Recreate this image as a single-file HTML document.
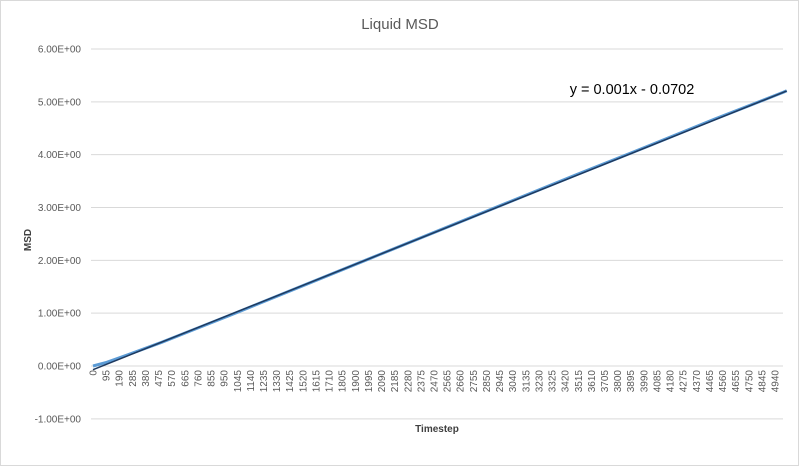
<!DOCTYPE html>
<html><head><meta charset="utf-8"><style>
body{margin:0;background:#fff;}
svg{display:block;font-family:"Liberation Sans",sans-serif;}
</style></head><body>
<svg id="chart" width="800" height="467">
<rect x="0.5" y="0.5" width="798" height="465" fill="#fff" stroke="#d9d9d9"/>
<text x="400" y="29" text-anchor="middle" font-size="15" fill="#595959">Liquid MSD</text>
<text x="632" y="94" text-anchor="middle" font-size="14.5" fill="#000">y = 0.001x - 0.0702</text>
<text transform="translate(31,240) rotate(-90)" text-anchor="middle" font-size="10" font-weight="bold" fill="#404040">MSD</text>
<text x="437" y="432" text-anchor="middle" font-size="10" font-weight="bold" fill="#404040">Timestep</text>
<g id="grid"></g><g id="xticks"></g><g id="series"></g>
</svg>
<script>
const yTicks=[-1,0,1,2,3,4,5,6];
const yTickLabels=["-1.00E+00","0.00E+00","1.00E+00","2.00E+00","3.00E+00","4.00E+00","5.00E+00","6.00E+00"];
const timesteps=[0,100,250,500,750,1000,1500,2000,2500,3000,3500,4000,4500,5000,5025];
const msd=[0.0,0.07,0.21,0.45,0.71,0.97,1.5,2.03,2.56,3.09,3.62,4.14,4.67,5.18,5.21];
const trendSlope=0.00105, trendIntercept=-0.0702;
const labelStep=95, labelCount=53;
const svgNS="http://www.w3.org/2000/svg";
const L=91,R=783;
function X(t){return 93+t/95*13.115;}
function Y(v){return 366-v*52.83;}
function mk(tag,attrs,parent){const e=document.createElementNS(svgNS,tag);for(const k in attrs)e.setAttribute(k,attrs[k]);parent.appendChild(e);return e;}
const grid=document.getElementById('grid');
yTicks.forEach((v,i)=>{
 const ln=mk('line',{x1:L,x2:R,y1:Y(v),y2:Y(v),stroke:'#d9d9d9','stroke-width':1},grid);
 
 
 const t=mk('text',{x:81,y:Y(v)+3.5,'text-anchor':'end','font-size':10,fill:'#595959'},grid);
 t.textContent=yTickLabels[i];
 
 
});
const xt=document.getElementById('xticks');
for(let i=0;i<labelCount;i++){
 const v=i*labelStep;
 const t=mk('text',{transform:`translate(${X(v)+3.5},370) rotate(-90)`,'text-anchor':'end','font-size':10,fill:'#595959'},xt);
 t.textContent=String(v);
 
 
}
const s=document.getElementById('series');
const d=timesteps.map((t,i)=>(i?'L':'M')+X(t).toFixed(1)+','+Y(msd[i]).toFixed(1)).join(' ');
const p=mk('path',{d:d,fill:'none',stroke:'#5b9bd5','stroke-width':3},s);


const t0=timesteps[0],t1=timesteps[timesteps.length-1];
const tl=mk('line',{x1:X(t0),y1:Y(trendIntercept),x2:X(t1),y2:Y(trendSlope*t1+trendIntercept),stroke:'#1f3a5f','stroke-width':1.5},s);


</script>
</body></html>
